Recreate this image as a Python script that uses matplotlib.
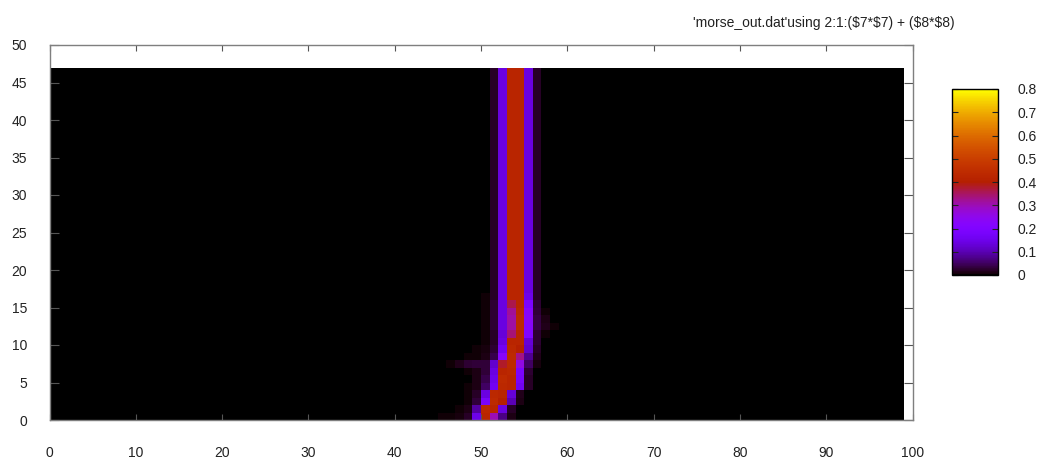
import numpy as np
import matplotlib
matplotlib.use("Agg")
import matplotlib.pyplot as plt

plt.rcParams['font.family'] = ['Liberation Sans', 'DejaVu Sans']

# grid of pm3d quads: x 0..99, y 0..47
n_x = 99
n_y = 47

# beam values, columns 42..58, rows y = 0..16
beam_first_col = 42
beam_rows = [
    [0.002, 0.003, 0.003, 0.004, 0.005, 0.008, 0.02, 0.15, 0.42, 0.30, 0.07, 0.01, 0, 0, 0, 0, 0],
    [0, 0, 0, 0, 0, 0.004, 0.012, 0.09, 0.43, 0.42, 0.14, 0.02, 0, 0, 0, 0, 0],
    [0, 0, 0, 0, 0, 0, 0.006, 0.03, 0.18, 0.44, 0.40, 0.10, 0.01, 0, 0, 0, 0],
    [0, 0, 0, 0, 0, 0, 0.005, 0.02, 0.14, 0.43, 0.42, 0.13, 0.015, 0, 0, 0, 0],
    [0, 0, 0, 0, 0, 0, 0.004, 0.012, 0.05, 0.16, 0.43, 0.42, 0.16, 0.02, 0, 0, 0],
    [0, 0, 0, 0, 0, 0, 0.003, 0.01, 0.04, 0.15, 0.44, 0.42, 0.18, 0.02, 0, 0, 0],
    [0, 0, 0, 0, 0, 0, 0.004, 0.012, 0.03, 0.14, 0.42, 0.43, 0.19, 0.025, 0, 0, 0],
    [0, 0, 0, 0, 0.006, 0.015, 0.025, 0.03, 0.03, 0.12, 0.38, 0.44, 0.26, 0.05, 0.008, 0, 0],
    [0, 0, 0, 0, 0, 0, 0.004, 0.006, 0.012, 0.04, 0.22, 0.44, 0.33, 0.08, 0.015, 0, 0],
    [0, 0, 0, 0, 0, 0, 0, 0.004, 0.008, 0.025, 0.16, 0.43, 0.40, 0.12, 0.02, 0, 0],
    [0, 0, 0, 0, 0, 0, 0, 0, 0.005, 0.02, 0.14, 0.42, 0.42, 0.13, 0.025, 0, 0],
    [0, 0, 0, 0, 0, 0, 0, 0, 0.005, 0.02, 0.13, 0.34, 0.42, 0.20, 0.025, 0.006, 0],
    [0, 0, 0, 0, 0, 0, 0, 0, 0.005, 0.025, 0.14, 0.31, 0.44, 0.22, 0.035, 0.015, 0.004],
    [0, 0, 0, 0, 0, 0, 0, 0, 0.005, 0.025, 0.14, 0.31, 0.44, 0.23, 0.035, 0.01, 0],
    [0, 0, 0, 0, 0, 0, 0, 0, 0.005, 0.025, 0.14, 0.32, 0.43, 0.22, 0.03, 0.004, 0],
    [0, 0, 0, 0, 0, 0, 0, 0, 0.004, 0.025, 0.14, 0.36, 0.42, 0.19, 0.025, 0, 0],
    [0, 0, 0, 0, 0, 0, 0, 0, 0.004, 0.02, 0.14, 0.42, 0.42, 0.15, 0.02, 0, 0],
]
# rows y = 17..46 all look the same
top_profile = [0, 0, 0, 0, 0, 0, 0, 0, 0, 0.02, 0.14, 0.42, 0.42, 0.14, 0.02, 0, 0]

cb_ticks = [0, 0.1, 0.2, 0.3, 0.4, 0.5, 0.6, 0.7, 0.8]
key_text = "'morse_out.dat'using 2:1:(\\$7*\\$7) + (\\$8*\\$8)"

grid = np.zeros((n_y, n_x))
for j in range(n_y):
    row = beam_rows[j] if j < len(beam_rows) else top_profile
    grid[j, beam_first_col:beam_first_col + len(row)] = row

W, H = 1042, 459
fig = plt.figure(figsize=(W / 100, H / 100), dpi=100)
ax = fig.add_axes([49.5 / W, 1 - 420 / H, 863 / W, 375 / H])

mesh = ax.pcolormesh(np.arange(n_x + 1), np.arange(n_y + 1), grid,
                     cmap='gnuplot', vmin=0, vmax=0.8, shading='flat')
ax.set_xlim(0, 100)
ax.set_ylim(0, 50)
ax.set_xticks(np.arange(0, 101, 10))
ax.set_yticks(np.arange(0, 51, 5))

for s in ax.spines.values():
    s.set_color('#7f7f7f')
    s.set_linewidth(1.0)
    s.set_zorder(5)
ax.tick_params(axis='both', direction='in', color='#555555', labelcolor='#222222',
               labelsize=10, top=True, right=True, width=0.8)
ax.tick_params(axis='x', length=4.5, pad=19)
ax.tick_params(axis='y', length=6.5, pad=16)

cax = fig.add_axes([952 / W, 1 - 275 / H, 46 / W, 186 / H])
cb = fig.colorbar(mesh, cax=cax)
cb.set_ticks(cb_ticks)
cb.set_ticklabels(['0', '0.1', '0.2', '0.3', '0.4', '0.5', '0.6', '0.7', '0.8'])
cb.outline.set_edgecolor('black')
cb.outline.set_linewidth(1.0)
cax.tick_params(direction='in', length=4.5, width=0.8, color='#222222',
                labelcolor='#222222', labelsize=10, left=True, right=True, pad=14)

fig.text(955 / W, 1 - 23 / H, key_text, ha='right', va='center',
         fontsize=10, color='#222222')

fig.savefig('out.png', dpi=100)
